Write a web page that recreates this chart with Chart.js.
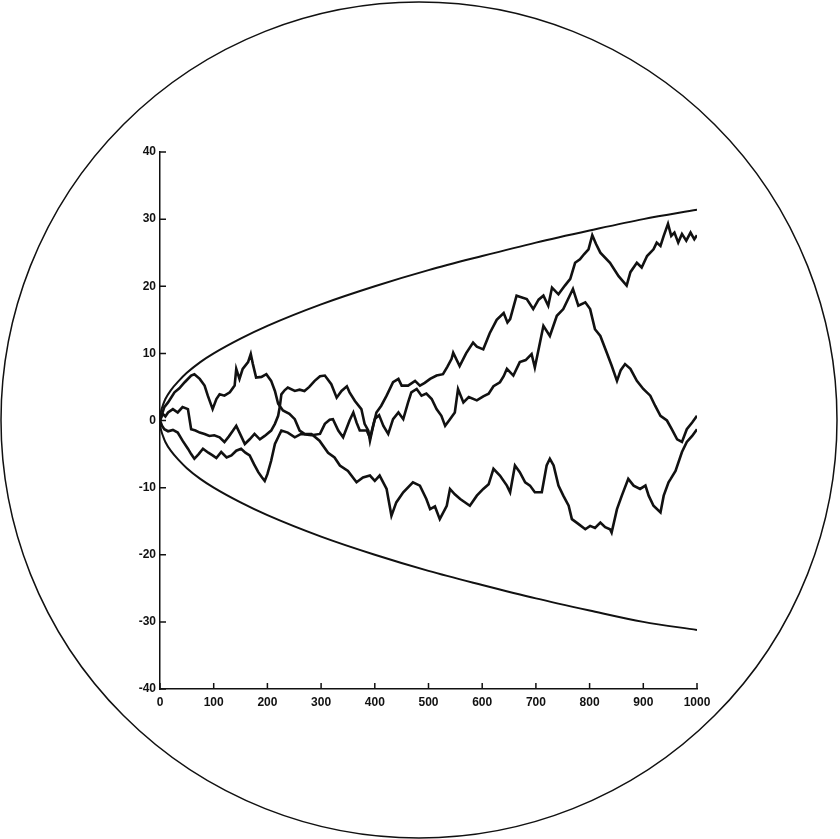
<!DOCTYPE html>
<html>
<head>
<meta charset="utf-8">
<title>Random walks</title>
<script src="https://cdn.jsdelivr.net/npm/chart.js@4.4.1/dist/chart.umd.min.js"></script>
<style>
    body { margin: 0; background: #fff; }
    #wrap { width: 840px; height: 839px; }
</style>
</head>
<body>
<div id="wrap"><canvas id="myChart"></canvas></div>
<script>
/*-----------------------------Data-------------------------------------------------*/
const xTicks = [0, 100, 200, 300, 400, 500, 600, 700, 800, 900, 1000];
const yTicks = [-40, -30, -20, -10, 0, 10, 20, 30, 40];

// boundary curve (upper half; lower is its mirror)
const edgeX = [0, 1, 3, 6, 10, 20, 35, 50, 75, 100, 150, 200, 300, 400, 500, 600, 700, 800, 900, 1000];
const edgeUp = [0, 1, 1.7, 2.4, 3.2, 4.5, 5.9, 7.1, 8.7, 10, 12.2, 14.1, 17.3, 20, 22.4, 24.5, 26.5, 28.3, 30, 31.4];
const edgeDown = [0, -1, -1.7, -2.4, -3.2, -4.5, -5.9, -7.1, -8.7, -10, -12.2, -14.1, -17.3, -20, -22.4, -24.5, -26.5, -28.3, -30, -31.2];

// walk leaving along the upper edge, ends at the bottom
const walkAx = [0, 2, 8, 15, 27, 36, 46, 58, 64, 74, 83, 89, 98, 105, 111, 120, 130, 139, 142, 148, 154, 164, 169, 173, 179, 189, 198, 207, 214, 220, 229, 241, 251, 260, 269, 282,
    297, 313, 325, 335, 350, 366, 378, 391, 400, 409, 422, 431, 440, 453, 471, 484, 496, 503, 512, 521, 534, 540, 549, 559, 577, 590, 602, 612, 621, 633, 646, 652, 661, 670,
    680, 689, 698, 711, 720, 726, 733, 742, 751, 761, 767, 779, 792, 801, 810, 820, 829, 838, 841, 851, 860, 872, 882, 894, 904, 910, 919, 932, 938, 947, 951, 960, 972, 981, 991, 1000];
const walkAy = [0, 0.5, 2.0, 2.7, 4.2, 4.8, 5.7, 6.7, 6.9, 6.2, 5.2, 3.7, 1.7, 3.2, 3.9, 3.7, 4.2, 5.2, 7.7, 6.2, 7.7, 8.7, 9.9, 8.4, 6.4, 6.5, 6.9, 5.9, 4.4, 2.5, 1.5, 1.0, 0.2, -1.5, -2.0, -2.0,
    -3.0, -4.8, -5.5, -6.7, -7.5, -9.2, -8.5, -8.2, -9.0, -8.2, -10.2, -14.2, -12.2, -10.7, -9.2, -9.7, -11.7, -13.2, -12.8, -14.7, -12.7, -10.2, -11.0, -11.7, -12.7, -11.2, -10.2, -9.5, -7.2, -8.2, -9.7, -10.7, -6.7, -7.7,
    -9.2, -9.7, -10.7, -10.7, -6.7, -5.7, -6.7, -9.7, -11.2, -12.7, -14.7, -15.4, -16.2, -15.7, -16.0, -15.2, -15.9, -16.2, -16.7, -13.2, -11.2, -8.7, -9.7, -10.2, -9.7, -11.2, -12.7, -13.7, -11.2, -9.2, -8.7, -7.5, -4.7, -3.2, -2.3, -1.3];

// walk starting in the middle, ends at the top
const walkBx = [0, 5, 10, 15, 24, 33, 42, 52, 58, 66, 74, 83, 92, 101, 111, 120, 128, 136, 142, 148, 158, 167, 176, 186, 195, 207, 214, 220, 223, 226, 232, 238, 251, 260, 269, 278, 288, 298, 307, 319,
    329, 338, 348, 353, 363, 375, 381, 388, 391, 397, 403, 412, 422, 434, 444, 450, 462, 475, 484, 493, 503, 515, 527, 535, 543, 546, 558, 570, 583, 590, 602, 614, 627, 640, 647, 652,
    664, 683, 695, 705, 714, 723, 730, 742, 754, 764, 773, 782, 790, 798, 805, 812, 820, 838, 854, 869, 876, 888, 897, 907, 919, 925, 932, 938, 946, 952, 958, 965, 972, 980, 988, 995, 1000];
const walkBy = [0, 1.0, 0.6, 1.2, 1.7, 1.2, 2.0, 1.7, -1.3, -1.5, -1.8, -2.0, -2.3, -2.2, -2.5, -3.2, -2.4, -1.5, -0.8, -1.8, -3.5, -2.8, -2.0, -2.8, -2.3, -1.5, -0.5, 0.7, 2.0, 3.9, 4.5, 4.9, 4.4, 4.6, 4.4, 5.0, 5.9, 6.6, 6.7, 5.4,
    3.4, 4.4, 5.1, 4.2, 2.9, 1.7, -0.5, -1.5, -3.0, -0.8, 1.2, 2.2, 3.7, 5.7, 6.2, 5.2, 5.2, 5.9, 5.2, 5.6, 6.2, 6.7, 6.9, 8.0, 9.2, 10.1, 8.1, 10.0, 11.6, 11.0, 10.6, 13.0, 15.0, 16.0, 14.6, 15.1,
    18.6, 18.1, 16.6, 18.0, 18.6, 17.1, 19.8, 18.8, 20.1, 21.1, 23.5, 24.0, 24.8, 25.5, 27.6, 26.3, 25.0, 23.5, 21.5, 20.1, 22.1, 23.5, 22.8, 24.5, 25.5, 26.5, 26.0, 27.5, 29.3, 27.5, 28.0, 26.5, 27.8, 26.8, 28.0, 27.0, 27.6];

// walk starting low, peaks near 770, ends near zero
const walkCx = [0, 4, 8, 15, 24, 33, 42, 52, 58, 64, 72, 80, 90, 98, 105, 114, 124, 133, 142, 151, 159, 167, 175, 183, 190, 195, 200, 207, 214, 220, 226, 238, 251, 263, 282,
    298, 307, 316, 322, 332, 341, 353, 360, 366, 372, 385, 391, 400, 408, 416, 425, 434, 444, 453, 462, 468, 478, 487, 496, 506, 515, 524, 531, 540, 549, 555, 565, 575, 590, 602,
    612, 621, 633, 640, 646, 658, 670, 681, 692, 698, 706, 714, 726, 739, 751, 760, 769, 779, 792, 801, 810, 820, 832, 841, 851, 858, 866, 876, 888, 900, 913, 922, 932, 944, 953, 963, 972, 981, 991, 1000];
const walkCy = [0, -0.8, -1.3, -1.6, -1.4, -1.8, -3.0, -4.2, -5.0, -5.7, -5.0, -4.2, -4.8, -5.2, -5.6, -4.7, -5.5, -5.2, -4.5, -4.2, -4.8, -5.2, -6.5, -7.7, -8.5, -9.0, -8.0, -6.0, -3.5, -2.5, -1.5, -1.8, -2.5, -2.0, -2.2,
    -2.0, -0.5, 0.1, 0.2, -1.5, -2.5, 0, 1.2, -0.3, -1.5, -1.5, -2.6, 0.2, 0.8, -0.8, -2.0, 0.2, 1.2, 0.2, 2.7, 4.2, 4.7, 3.7, 4.0, 3.2, 1.7, 0.7, -0.8, 0.2, 1.2, 4.7, 2.7, 3.5, 3.0, 3.6,
    4.0, 5.1, 5.7, 6.6, 7.7, 6.7, 8.7, 9.0, 9.9, 7.9, 11.0, 14.1, 12.6, 15.6, 16.6, 18.1, 19.6, 17.1, 17.6, 16.6, 13.6, 12.6, 10.1, 8.2, 5.9, 7.5, 8.4, 7.7, 5.9, 4.7, 3.7, 2.2, 0.7, 0, -1.3, -2.8, -3.2, -1.3, -0.3, 0.7];

function toPoints(xs, ys) {
    return xs.map(function (x, i) { return { x: x, y: ys[i] }; });
}

/*-----------------------------Decoration-------------------------------------------------*/
// outer circle and inward tick marks
const decor = {
    id: 'decor',
    afterDraw: function (chart) {
        const ctx = chart.ctx;
        const sx = chart.scales.x, sy = chart.scales.y;
        ctx.save();
        ctx.strokeStyle = '#111';
        ctx.lineWidth = 1.5;
        ctx.beginPath();
        ctx.arc(419, 420, 418, 0, Math.PI * 2);
        ctx.stroke();
        ctx.beginPath();
        xTicks.forEach(function (v) {
            const p = sx.getPixelForValue(v);
            ctx.moveTo(p, sy.bottom);
            ctx.lineTo(p, sy.bottom - 6);
        });
        yTicks.forEach(function (v) {
            const p = sy.getPixelForValue(v);
            ctx.moveTo(sx.left, p);
            ctx.lineTo(sx.left + 6, p);
        });
        ctx.stroke();
        ctx.restore();
    }
};

/*-----------------------------Chart-------------------------------------------------*/
const lineStyle = { borderColor: '#111', borderWidth: 2.6, pointRadius: 0, fill: false, tension: 0 };
const tickFont = { family: 'Liberation Sans', size: 12, weight: 'bold' };

let myChart = document.getElementById('myChart').getContext('2d');

let walkChart = new Chart(myChart, {
    type: 'line',
    data: {
        datasets: [
            Object.assign({ label: 'upper edge', data: toPoints(edgeX, edgeUp), cubicInterpolationMode: 'monotone' }, lineStyle, { borderWidth: 2 }),
            Object.assign({ label: 'lower edge', data: toPoints(edgeX, edgeDown), cubicInterpolationMode: 'monotone' }, lineStyle, { borderWidth: 2 }),
            Object.assign({ label: 'walk A', data: toPoints(walkAx, walkAy) }, lineStyle),
            Object.assign({ label: 'walk B', data: toPoints(walkBx, walkBy) }, lineStyle),
            Object.assign({ label: 'walk C', data: toPoints(walkCx, walkCy) }, lineStyle)
        ]
    },
    options: {
        responsive: true,
        maintainAspectRatio: false,
        animation: false,
        layout: {
            padding: { left: 120, top: 152, right: 143, bottom: 120 }
        },
        plugins: {
            legend: { display: false },
            tooltip: { enabled: false }
        },
        scales: {
            x: {
                type: 'linear',
                min: 0,
                max: 1000,
                afterFit: function (scale) { scale.height = 30; },
                afterBuildTicks: function (scale) { scale.ticks = xTicks.map(function (v) { return { value: v }; }); },
                grid: { display: false, drawTicks: false },
                border: { display: true, color: '#111', width: 1.5 },
                ticks: {
                    color: '#111', font: tickFont, padding: 6, maxRotation: 0, autoSkip: false,
                    callback: function (value) { return String(value); }
                }
            },
            y: {
                type: 'linear',
                min: -40,
                max: 40,
                afterFit: function (scale) { scale.width = 40; },
                afterBuildTicks: function (scale) { scale.ticks = yTicks.map(function (v) { return { value: v }; }); },
                grid: { display: false, drawTicks: false },
                border: { display: true, color: '#111', width: 1.5 },
                ticks: {
                    color: '#111', font: tickFont, padding: 4, autoSkip: false,
                    callback: function (value) { return String(value); }
                }
            }
        }
    },
    plugins: [decor]
});
</script>
</body>
</html>
